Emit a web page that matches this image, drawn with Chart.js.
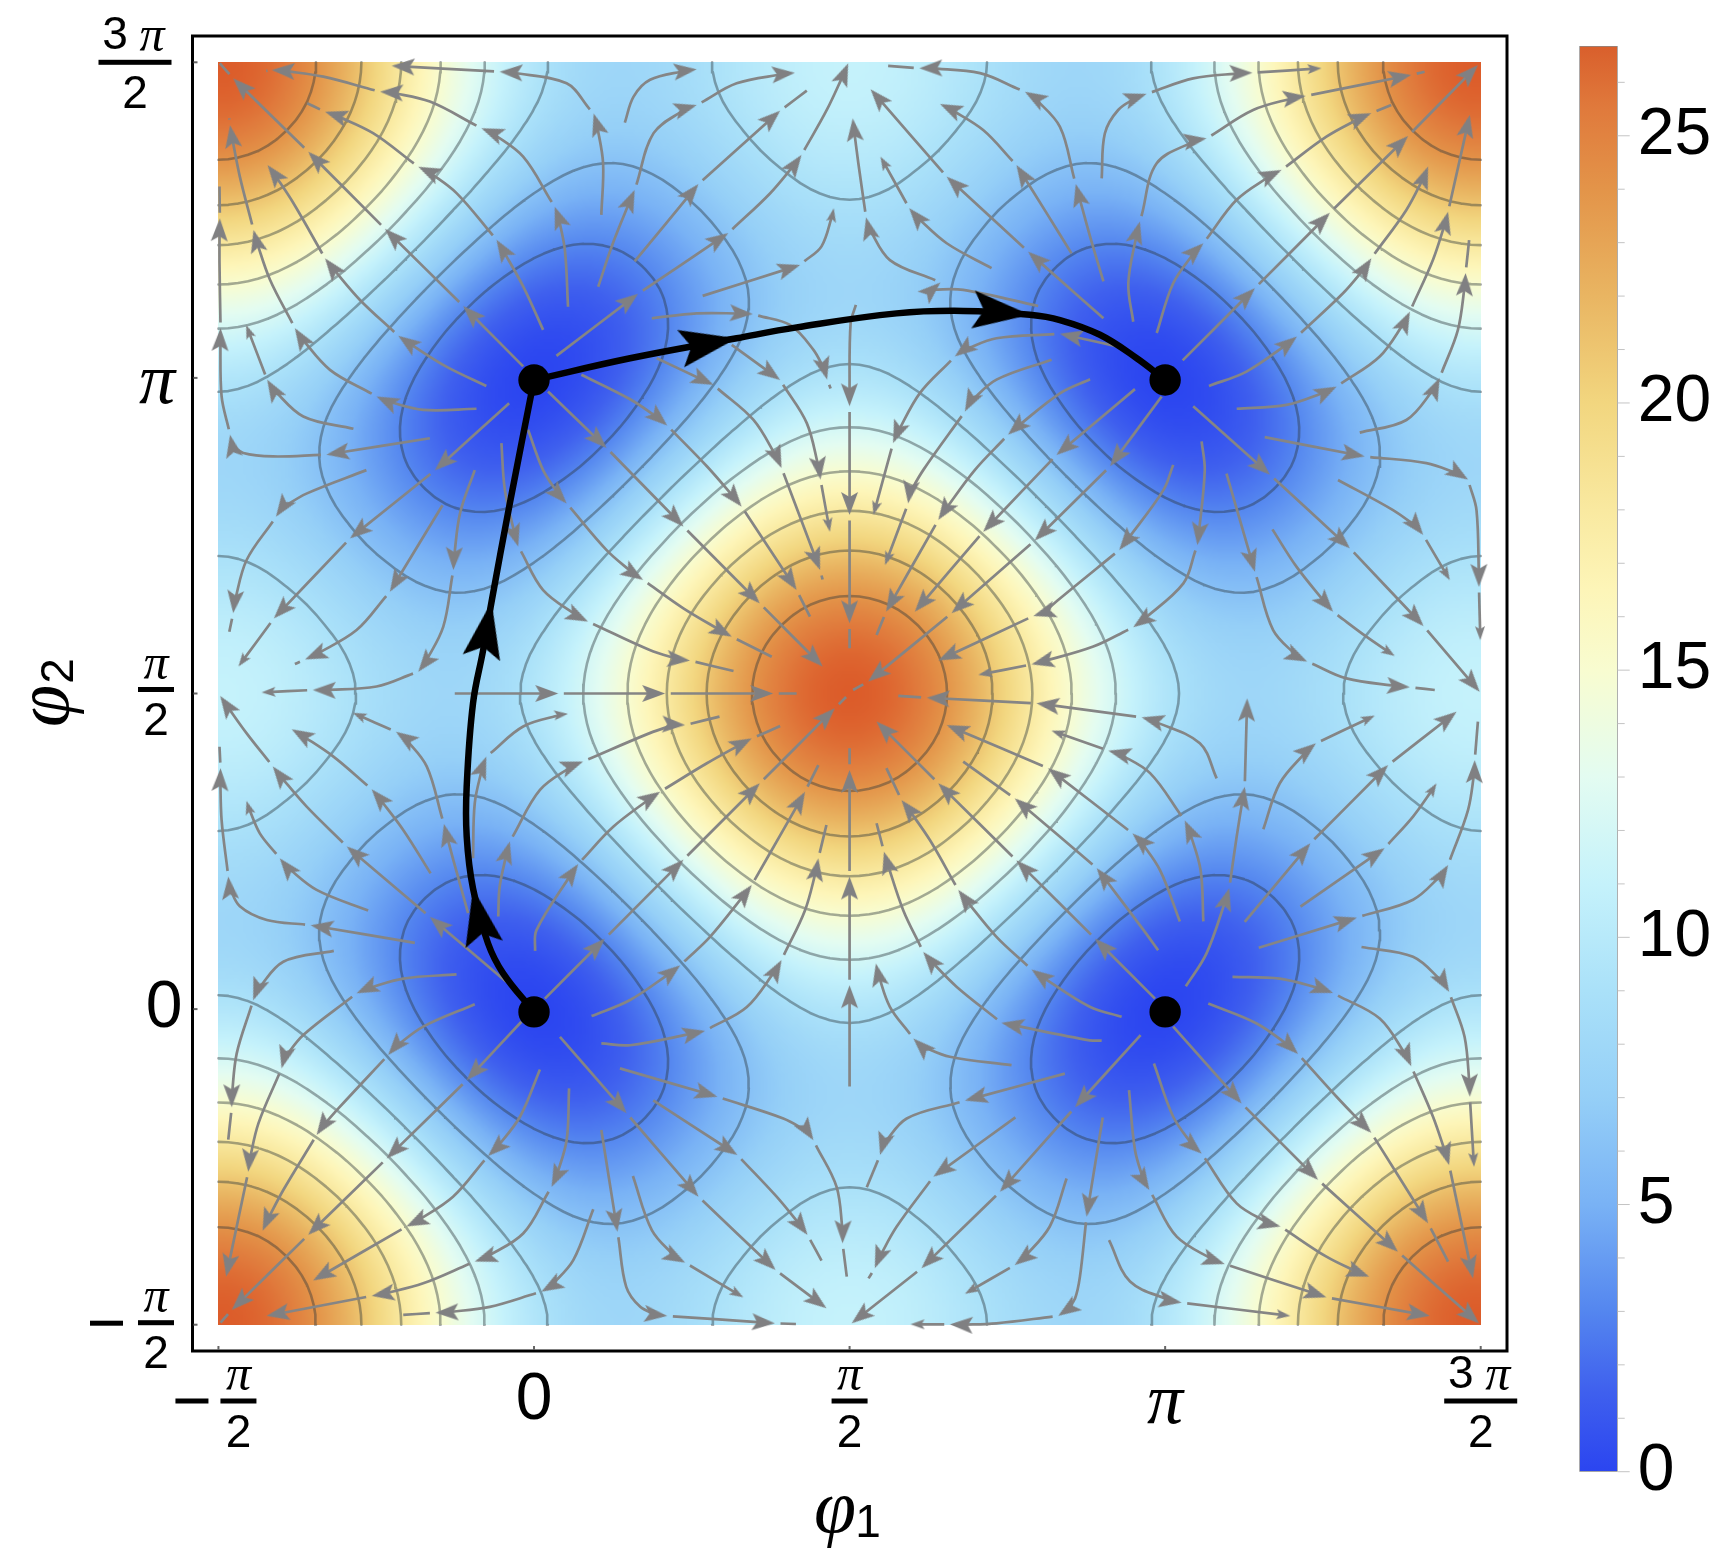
<!DOCTYPE html>
<html>
<head>
<meta charset="utf-8">
<title>phi1 phi2 landscape</title>
<script src="https://cdn.jsdelivr.net/npm/chart.js@4/dist/chart.umd.min.js"></script>
<style>
  html, body { margin: 0; background: #fff; }
  #wrap { position: relative; width: 1726px; height: 1558px; overflow: hidden; }
  canvas { position: absolute; top: 0; }
  #main { left: 0; }
  #bar { left: 1560px; }
</style>
</head>
<body>
<div id="wrap">
  <canvas id="main" width="1726" height="1558"></canvas>
  <canvas id="bar" width="166" height="1558"></canvas>
</div>
<script>
// all angles in degrees, -90 ... 270 on both axes
const xTicks = [-90, 0, 90, 180, 270];
const yTicks = [-90, 0, 90, 180, 270];
const contourLevels = [3, 6, 9, 12, 15, 18, 21, 24];
const barTop = 26.68;

// colour ramp
const rampValues = [0, 1.5, 3, 5, 7, 9, 11, 13, 15, 16.5, 18, 20, 22, 24, 25.5, 27];
const rampColors = ['#2b45f0', '#3f60ee', '#5486ef', '#79b2f5', '#95cff7', '#aae1f9', '#c5f2fb', '#e3fcf1',
  '#f8fcd0', '#fdf5b8', '#f9e9a0', '#f2d67f', '#e9b562', '#e39449', '#e07a3c', '#dc5c2a'];

// potential read at 11.25 degree steps, y = -90 up to y = 0, x = -90 ... 90
const heatRows = [
  [27, 26.49, 25, 22.71, 19.91, 16.89, 13.95, 11.42, 9.5, 8.3, 7.83, 7.99, 8.59, 9.41, 10.22, 10.79, 11],
  [26.49, 25.98, 24.5, 22.22, 19.44, 16.44, 13.54, 11.03, 9.14, 7.97, 7.52, 7.72, 8.34, 9.18, 10, 10.58, 10.79],
  [25, 24.5, 23.05, 20.81, 18.09, 15.16, 12.33, 9.91, 8.11, 7.03, 6.67, 6.94, 7.63, 8.53, 9.39, 10, 10.22],
  [22.71, 22.22, 20.81, 18.64, 16.01, 13.2, 10.5, 8.22, 6.56, 5.62, 5.4, 5.8, 6.61, 7.6, 8.53, 9.18, 9.41],
  [19.91, 19.44, 18.09, 16.01, 13.5, 10.83, 8.31, 6.21, 4.75, 4.01, 3.97, 4.55, 5.5, 6.61, 7.63, 8.34, 8.59],
  [16.89, 16.44, 15.16, 13.2, 10.83, 8.35, 6.03, 4.17, 2.94, 2.43, 2.63, 3.41, 4.55, 5.8, 6.94, 7.72, 7.99],
  [13.95, 13.54, 12.33, 10.5, 8.31, 6.03, 3.95, 2.35, 1.39, 1.15, 1.61, 2.63, 3.97, 5.4, 6.67, 7.52, 7.83],
  [11.42, 11.03, 9.91, 8.22, 6.21, 4.17, 2.35, 1.02, 0.36, 0.42, 1.15, 2.43, 4.01, 5.62, 7.03, 7.97, 8.3],
  [9.5, 9.14, 8.11, 6.56, 4.75, 2.94, 1.39, 0.36, 0, 0.36, 1.39, 2.94, 4.75, 6.56, 8.11, 9.14, 9.5]
];

// the four wells
const wells = [[0, -0.8], [0, 179.4], [180, -0.8], [180, 179.4]];

// black path, third number marks an arrow tip
const pathUp = [[0, -0.8], [-8.8, 10.2], [-13.1, 18.7], [-17.4, 34.4, 1], [-19.2, 49.2], [-19.2, 63.5], [-17.4, 87.2], [-14.5, 102.4], [-12.1, 116.2, 1], [-6.9, 144.2], [0, 179.4]];
const pathRight = [[0, 179.4], [27.4, 185.6], [57.8, 191.3, 1], [74.9, 194.4], [103.4, 198.4], [122.4, 199.1], [141.4, 198, 1], [150, 196.5], [161.4, 192.3], [171.9, 185.6], [180, 179.4]];

// grey stream lines: third number 1 = arrow tip, 2 = small arrow tip
const streamPaths = [
  [[-3.1, 183.3], [-20.2, 200.5, 1], [-42.5, 222.5, 1], [-64.4, 244.5, 1], [-85.8, 265.4, 1], [-89.6, 269.7]],
  [[2.6, 193.7], [-3.1, 206.1], [-10.7, 219.4, 1], [-22.1, 232.7], [-33, 240.2, 1], [-45.9, 249.8], [-59.6, 255.9, 1], [-64.7, 258.3]],
  [[9.7, 200.3], [8.8, 216.5], [5.9, 228.8, 1], [-3.1, 243.1], [-15, 251.2, 1], [-29.7, 258.8], [-43.9, 261.6, 1], [-60.1, 265.9], [-74.8, 267.8, 1], [-76, 267.6]],
  [[19.2, 226.5], [19.7, 241.2], [17, 255.4, 1], [9.3, 264], [-9.8, 267.3, 1], [-22.1, 268], [-40.6, 269, 1]],
  [[18.3, 206], [22.5, 218.4], [28.7, 233.6, 1], [34.1, 249.8], [46.4, 257.8, 1], [57.8, 264], [74.4, 267, 1]],
  [[25.9, 252.8], [28.4, 260.2], [33.1, 265], [46.4, 268, 1]],
  [[-13.6, 177.7], [-25, 183.2], [-38.7, 192, 1], [-49.7, 202.3], [-59.6, 214.1, 1], [-68.6, 229.8], [-76, 240.7, 1], [-76.6, 242.2]],
  [[-16.4, 171.2], [-31.6, 170.9], [-44.9, 174.7, 1], [-58.2, 182.3], [-68.2, 194.2, 1], [-75.3, 208], [-80, 222.2, 1], [-83.9, 237.4], [-86.7, 252.1, 1], [-86.9, 254]],
  [[-51.5, 165.5], [-65.8, 169], [-76.1, 179.5, 1], [-82.1, 195.1, 2]],
  [[-29.7, 162.8], [-59.2, 158.1, 1], [-74.4, 157.6], [-82.9, 158.6], [-86.7, 163.8, 1], [-89.1, 174.7], [-89.4, 194.2, 1], [-89.7, 212.7], [-89.6, 225.5, 1], [-89.7, 234.6]],
  [[-7.1, 172.8], [-28.3, 153.6, 1], [-52.5, 134.2, 1], [-74.2, 111.4, 1], [-84.3, 97.7, 2]],
  [[-47.8, 153.7], [-64.9, 147], [-73.6, 140.4, 1], [-82, 128], [-85.8, 112.9, 1], [-86.9, 107.6]],
  [[-26.1, 143.7], [-41.1, 119, 1], [-50.6, 108.1], [-65.3, 99.7, 1], [-68.2, 98.4]],
  [[-16.9, 153.7], [-21.1, 141.4], [-23, 125.2, 1], [-25.9, 109], [-33, 96.2, 1], [-44.9, 92], [-63.1, 91, 1], [-77.7, 90.3, 2]],
  [[-1.7, 165.2], [2.6, 153.7], [9.3, 144.2, 1], [20.7, 130.9], [31.1, 122.4, 1], [42.6, 114.3], [56.4, 106.2, 1], [67.8, 100.5]],
  [[-9.3, 161.4], [-8.3, 148], [-4.5, 131.9, 1], [2.6, 119.5], [15.4, 110.5, 1], [33, 102.4], [44.5, 99.4, 1], [56.9, 96.4]],
  [[-7.9, 7.8], [-29.7, 26.3, 1], [-53.4, 46.4, 1], [-64.9, 57.8], [-74.5, 69.2, 1], [-82, 78.7], [-89.5, 89.3, 1]],
  [[-29.5, 38.7], [-37.3, 51.1], [-46.3, 62.7, 1], [-57.2, 72], [-69.1, 79.8, 1]],
  [[-18.8, 27.4], [-23, 42.5], [-25.7, 52.8, 1], [-30.6, 69.2], [-39.4, 79.1, 1], [-51.7, 84.5, 2]],
  [[-47.3, 28.1], [-62, 34], [-72.5, 43, 1], [-78.2, 50.1], [-82, 59.4, 2]],
  [[-34, 18.9], [-63.7, 23.9, 1], [-76.2, 25.4], [-83.9, 29.3], [-87.2, 37.8, 1], [-89.1, 53.9], [-89.4, 68.7, 1], [-89.7, 74.8]],
  [[-17.4, 43], [-16.9, 58.7], [-13.6, 72, 1], [-3.1, 80.6], [9.7, 84.2, 2]],
  [[-22.6, 90], [6.9, 90, 1], [37.4, 90, 1], [68.2, 90, 1], [74.9, 90]],
  [[-10.2, 26.4], [-9.8, 34.9], [-6.9, 47.8, 1], [1.7, 62.5], [14, 70.6, 1], [33, 78.7], [43.1, 81, 1], [52.9, 83.4]],
  [[0.3, 16.6], [0.7, 22.5], [12.6, 41.4, 1], [22.6, 52], [36, 62, 1], [49.3, 70.1], [62.1, 77.2, 1], [70.2, 80.7]],
  [[3.1, 3], [20.2, 20.1, 1], [42.6, 42.6, 1], [64.4, 64.4, 1], [85.8, 85.8, 1], [89, 89]],
  [[16.4, -2], [27.4, 2.6], [41.7, 12.5, 1], [50.2, 20.6], [62.1, 35.4, 1], [71.1, 51.1], [77.3, 62, 1], [81.1, 69.6]],
  [[19.2, -9.8], [27.4, -10.3], [48.8, -6.2, 1], [60.7, 0.6], [70.6, 14, 1], [77.3, 28.2], [81.1, 43, 1], [83.4, 52.5]],
  [[90, -22.1], [90, 6.8, 1], [90, 37.8, 1], [90, 68.2, 1], [90, 74.4]],
  [[136.2, -16], [118.6, -13.6], [108.2, -8.4, 1], [101.5, 0.65], [97.5, 13, 1]],
  [[161.9, -9], [158.5, -8.9], [133.3, -3.9, 1], [120.5, 6.4], [111, 16.3, 1], [105.3, 28.2], [99.8, 44.9, 1], [97.7, 53]],
  [[167.6, -2.2], [158.5, 0.65], [141.9, 11.3, 1], [131.9, 20.6], [121, 34, 1], [112.9, 48.2], [104.8, 59.6, 1], [100.5, 68.7]],
  [[177.1, 3], [160, 20.1, 1], [137.6, 42.4, 1], [115.3, 64.4, 1], [97.7, 82, 1]],
  [[178, 16.8], [173.8, 22.6], [160.5, 40.2, 1], [137.1, 60.1, 1], [122.4, 70.6]],
  [[184.2, 25], [178.5, 39.7], [170.7, 50.1, 1], [146.6, 68.7, 1], [117.7, 81, 1]],
  [[194.7, 65.8], [189.9, 75.8], [173.3, 83.2, 1], [143.3, 87.2, 1], [112, 88.8, 1], [103.9, 89.3]],
  [[190.9, 25], [190.1, 39.7], [185.6, 53.8, 1], [175.7, 67.3], [163.8, 73.7, 1], [147.6, 79.4, 2]],
  [[190.4, 161.9], [191.3, 153.7], [189.2, 132.3, 1], [185.2, 121.4], [170.9, 108.9, 1], [159.5, 103.4], [141.9, 98.3, 1], [126.7, 95.3, 2]],
  [[182.3, 155.2], [179.5, 148], [166.9, 130.9, 1], [150, 117.1], [142.4, 112.1, 1], [115.3, 99.4, 1]],
  [[179, 174.7], [164.3, 154.8, 1], [142.8, 133.6, 1], [119.1, 112.9, 1], [95.3, 93.4, 1], [91, 91]],
  [[171.4, 176.8], [149, 158, 1], [128.1, 136.1, 1], [108.6, 113.3, 1]],
  [[147.6, 185.2], [131.9, 179.5], [122.9, 170.4, 1], [111, 153.7], [106.7, 144.2, 1], [100.1, 126.6, 2]],
  [[158.6, 179.6], [150, 175.6], [135.2, 163.8, 1], [125.7, 153.7], [115.3, 139.5, 1], [100.4, 113.3, 1], [97.7, 106.7]],
  [[168.5, 188.5], [150, 192.6, 1], [131.9, 191.3], [120, 186.1, 1], [110, 175.6], [102.4, 161.4, 1], [96.8, 140.9, 2]],
  [[91.8, 200.8], [90.3, 195.6], [90, 171.9, 1], [90, 140.9, 1], [90, 110, 1], [90, 102.9]],
  [[33.6, 197], [46.4, 198.4], [62.4, 198.2, 1], [73, 195.1], [79.7, 188], [83.6, 179.5, 1], [84.6, 177]],
  [[35, 185.6], [51.2, 178, 1], [62.6, 168], [70.6, 154.3, 1], [81.6, 125.2, 1], [82.3, 122.5]],
  [[56.4, 189.4], [70.2, 179.4, 1], [77.8, 167.1], [81.7, 151, 1], [84.4, 136.1, 2]],
  [[13.5, 180.9], [27.4, 173.9], [38, 166.4, 1], [49.3, 154.8], [59.2, 143.3, 1], [74.9, 119.5, 1], [78.7, 111.9]],
  [[4, 176.1], [20.7, 160, 1], [42.6, 137.6, 1], [64.4, 115.7, 1], [82.3, 97.7, 1]],
  [[6.4, 186.3], [29.7, 204, 1], [55.4, 221.3, 1], [67.3, 232.6], [76.3, 243.6, 1], [83.5, 256.4], [89.6, 269.7, 1]],
  [[28.7, 213.2], [46.9, 235.3, 1], [70.2, 256.2, 1], [77.8, 261.9]],
  [[48.1, 203.4], [75.9, 212.2, 1], [82, 217.5], [85.5, 228.4, 2]],
  [[143.8, 200.5], [122.4, 205.1], [115.9, 207.2, 1], [101.5, 213.6], [94.7, 225.8, 1], [92.5, 241.2], [90.9, 254, 1]],
  [[130.5, 211.3], [117.7, 218.4], [107, 228.4, 1], [102.5, 236.5], [98.8, 243.1, 2]],
  [[162.4, 197], [140.9, 216, 1], [117.7, 237.4, 1], [96, 262.3, 1]],
  [[153.3, 215.5], [146.2, 227], [137.6, 240.7, 1], [128.1, 250.7], [115.8, 258.1, 1]],
  [[162.4, 207.5], [158.6, 220.3], [154.5, 235.3, 1], [150, 251.6], [140, 261.6, 1], [127.2, 266.9], [109.9, 268.3, 1], [101, 269]],
  [[170.9, 196], [169.5, 207], [172.8, 224.6, 1], [177.6, 241.2], [191.8, 248.3, 1], [205.1, 256.4], [220.1, 260.4, 1], [250.2, 266.4, 1], [254, 267.3]],
  [[161.9, 236.9], [162.8, 249.7], [166.6, 256.4], [174.7, 261, 1], [188, 265.4], [204.9, 267, 1], [224.6, 268.3, 2]],
  [[177.6, 192.8], [182.3, 207], [190.9, 218.4, 1], [200.4, 230.8], [213.2, 239.3, 1], [226, 248.8], [238.8, 255.5, 1], [244.5, 257.8]],
  [[185, 185], [205.6, 205.6, 1], [227, 227.1, 1], [249.3, 249, 1], [269.2, 269.2, 1]],
  [[192.5, 177.7], [203.2, 181.8], [217.6, 191.8, 1], [230.8, 204.2], [238.8, 214.1, 1], [248.8, 227.9], [255, 240.3, 1]],
  [[200.4, 171.2], [214.6, 172.3], [228.9, 177.5, 1], [241.2, 186.1], [249.8, 198.9, 1], [256.4, 213.7], [260.7, 227.4, 1], [266.9, 255, 1]],
  [[235.5, 164.4], [248.8, 168], [258.3, 180, 1], [263.5, 193.7], [265.7, 209.9, 1], [266.7, 219.3]],
  [[208.4, 163.1], [236.9, 157.6, 1], [254.5, 155.7], [266.4, 151, 1], [268.8, 142.3], [269.5, 120.4, 1], [269.9, 105.2, 2]],
  [[188, 171.9], [209.9, 152.4, 1], [232.7, 131.4, 1], [253.7, 109.2, 1], [269.7, 90.5, 1]],
  [[229.3, 150.9], [245, 142.3], [253.6, 135.2, 1], [261.2, 122.3, 2]],
  [[197.5, 152.7], [205.6, 124.7, 1], [210.8, 108.1], [220.5, 99.1, 1], [231.7, 94.3], [249.8, 91.8, 1], [256.9, 91]],
  [[210.6, 136.8], [217.5, 126.1], [227.9, 113.3, 1], [237.4, 106.2], [245.5, 100.7, 2]],
  [[202.7, 24.9], [221.4, 47.3, 1], [243.6, 69.6, 1], [263.1, 84.8, 1]],
  [[185.9, 6.5], [191.8, 15.9], [198.3, 34.5, 1], [200.4, 49.2], [202.7, 63.4, 1], [203.4, 88.6, 1]],
  [[208, 51.3], [212.7, 64.4], [223, 75.8, 1], [239.8, 83.7, 2]],
  [[218.6, 29.2], [242.6, 45.9, 1], [250.7, 54.9], [257.4, 64.4, 2]],
  [[206.7, 17.5], [234.7, 26.1, 1], [250.7, 31.2], [260.7, 41.1, 1], [266.4, 56.8], [268.3, 71, 1], [269.2, 82]],
  [[236, 17.7], [250.7, 14.9], [261, 4.9, 1], [265.4, -7.9], [266.9, -25, 1], [268.1, -45, 2]],
  [[199.2, 9.2], [212.7, 8.7], [227.9, 4.6, 1], [241.2, -2.7], [250.2, -16.3, 1], [256.4, -30.7], [261, -44.5, 1], [267.8, -76.8, 1]],
  [[192.3, 1.6], [206.1, -4.1], [217.9, -12.8, 1], [228.9, -25], [238.8, -35.3, 1], [255, -61.1, 1], [260.7, -72]],
  [[182.3, -5], [201.8, -26.9, 1], [223.6, -48.7, 1], [246.4, -69.2, 1], [269.5, -89.6, 1]],
  [[176.8, -15.5], [182.3, -30.7], [190.4, -41.2, 1], [200.4, -55.4], [212.9, -62, 1], [226, -70.6], [238.2, -76.3, 1]],
  [[169.7, -23.1], [171.4, -40.2], [175.5, -51.6, 1], [183.3, -64.9], [197, -72.7, 1], [226, -82.2, 1], [255.5, -87.5, 1]],
  [[164, -65.9], [170, -77.7], [184.7, -83.7, 1], [215.7, -87.5, 2]],
  [[162.2, -30.9], [157.6, -59.2, 1], [155.7, -76.3], [154.3, -82.5], [149.5, -87.5, 1], [131.9, -89.6], [118.6, -89.9, 1], [107.4, -89.9, 2]],
  [[151.9, -48.3], [147.1, -62], [137.1, -73, 1], [122.9, -81.2, 2]],
  [[173, -7.4], [154.3, -28, 1], [132.9, -52.1, 1], [110.5, -73.9, 1], [90.6, -89.6, 1]],
  [[151.4, -18.4], [122.9, -26.1, 1], [106.3, -31.2], [98.7, -41.6, 1], [94.9, -50.8]],
  [[137.3, -30.9], [113.9, -47.8, 1], [103.4, -62.1], [97.2, -73.9, 1], [95.4, -76.8]],
  [[7.4, -7.9], [26.4, -29.7, 1], [46.9, -53.5, 1], [68.9, -74.4, 1], [83.4, -85.3, 1]],
  [[24.5, -16.9], [52.3, -25, 1], [71.1, -31.2], [79.7, -37.4, 1], [86.3, -50.7], [88, -66.8, 1], [89.2, -76.3]],
  [[34, -26], [58, -41.6, 1], [69.2, -53.5], [78, -64.4, 1], [82, -71.7]],
  [[28.2, -47.6], [33.6, -63], [43.1, -72.3, 1], [59.7, -82.2, 2]],
  [[19.2, -34.5], [23.8, -63.5, 1], [26.3, -79.2], [30.3, -84.9], [38, -87.5, 1], [68.7, -89.6, 1], [74.7, -89.8]],
  [[10, -22.6], [9.3, -37.4], [5, -50.7, 1], [-3.1, -64], [-16.9, -72, 1], [-31.6, -78.2], [-46.3, -81.8, 1], [-76.3, -87.5, 1]],
  [[1.7, -17.2], [-4, -30.7], [-13.1, -41.9, 1], [-23.1, -53.5], [-36.4, -62, 1], [-63, -77.4, 1]],
  [[-3.6, -3.6], [-19.2, -20.3, 1], [-42, -42.6, 1], [-64.4, -64.4, 1], [-86.2, -85.8, 1], [-89.4, -89.4]],
  [[-16.9, 1.4], [-31.6, -5], [-41.6, -13.1, 1], [-55.4, -27.9], [-62, -35.9, 1], [-71.5, -51.6], [-77.4, -63.2, 1]],
  [[-22.1, 9.9], [-37.3, 8.7], [-50.6, 4.5, 1], [-65.8, -7.4], [-72, -16.9, 1], [-78.6, -32.6], [-81.5, -46.4, 1], [-87.8, -76.3, 1]],
  [[-57.1, 16.6], [-71.5, 13.5], [-80.1, 2.5, 1], [-84.8, -12.7], [-86.2, -28, 1], [-87.2, -37.2]],
  [[16.9, -57.1], [11.2, -71.6], [2.1, -80.6, 1], [-12.6, -84.9], [-28.1, -86.6, 1], [-37.3, -87.2]]
];

// the landscape mirrors about the central peak, so the stored rows fill the whole square
const quarter = heatRows.concat(heatRows.slice(0, -1).reverse().map(r => r.slice().reverse()));
const halfWide = quarter.map(r => r.concat(r.slice(0, -1).reverse()));
const heatGrid = halfWide.concat(halfWide.slice(0, -1).reverse());
const STEP = 11.25;
const LAST = heatGrid.length - 1;

function mirrorIndex(i) {
  if (i < 0) return -i;
  if (i > LAST) return 2 * LAST - i;
  return i;
}

function cubic(a, b, c, d, t) {
  return b + 0.5 * t * (c - a + t * (2 * a - 5 * b + 4 * c - d + t * (3 * (b - c) + d - a)));
}

// smooth read-out of the table, used for painting only
function heatAt(x, y) {
  const u = (x + 90) / STEP, v = (y + 90) / STEP;
  const i = Math.min(Math.floor(u), LAST - 1), j = Math.min(Math.floor(v), LAST - 1);
  const tu = u - i, tv = v - j;
  const rows = [];
  for (let m = -1; m <= 2; m++) {
    const row = heatGrid[mirrorIndex(j + m)];
    rows.push(cubic(row[mirrorIndex(i - 1)], row[i], row[i + 1], row[mirrorIndex(i + 2)], tu));
  }
  return cubic(rows[0], rows[1], rows[2], rows[3], tv);
}

const rampRgb = rampColors.map(h => [parseInt(h.slice(1, 3), 16), parseInt(h.slice(3, 5), 16), parseInt(h.slice(5, 7), 16)]);
function rampAt(v) {
  if (v <= rampValues[0]) return rampRgb[0];
  for (let k = 1; k < rampValues.length; k++) {
    if (v <= rampValues[k]) {
      const t = (v - rampValues[k - 1]) / (rampValues[k] - rampValues[k - 1]);
      return rampRgb[k].map((c, n) => rampRgb[k - 1][n] + (c - rampRgb[k - 1][n]) * t);
    }
  }
  return rampRgb[rampRgb.length - 1];
}

// offscreen picture of the table
function buildHeatImage() {
  const size = 361;
  const c = document.createElement('canvas');
  c.width = size; c.height = size;
  const g = c.getContext('2d');
  const img = g.createImageData(size, size);
  for (let r = 0; r < size; r++) {
    for (let q = 0; q < size; q++) {
      const rgb = rampAt(heatAt(-90 + q, 270 - r));
      const p = (r * size + q) * 4;
      img.data[p] = rgb[0]; img.data[p + 1] = rgb[1]; img.data[p + 2] = rgb[2]; img.data[p + 3] = 255;
    }
  }
  g.putImageData(img, 0, 0);
  return c;
}

// marching squares over the table, one point list per level
function contourPoints(level) {
  const n = 128, d = 360 / n;
  const field = [];
  for (let j = 0; j <= n; j++) {
    const row = [];
    for (let i = 0; i <= n; i++) row.push(heatAt(-90 + i * d, -90 + j * d));
    field.push(row);
  }
  const out = [];
  const cross = (x1, y1, v1, x2, y2, v2) => {
    const t = (level - v1) / (v2 - v1);
    return { x: x1 + (x2 - x1) * t, y: y1 + (y2 - y1) * t };
  };
  for (let j = 0; j < n; j++) {
    for (let i = 0; i < n; i++) {
      const x0 = -90 + i * d, x1 = x0 + d, y0 = -90 + j * d, y1 = y0 + d;
      const a = field[j][i], b = field[j][i + 1], c = field[j + 1][i + 1], e = field[j + 1][i];
      const hits = [];
      if ((a < level) !== (b < level)) hits.push(cross(x0, y0, a, x1, y0, b));
      if ((b < level) !== (c < level)) hits.push(cross(x1, y0, b, x1, y1, c));
      if ((c < level) !== (e < level)) hits.push(cross(x1, y1, c, x0, y1, e));
      if ((e < level) !== (a < level)) hits.push(cross(x0, y1, e, x0, y0, a));
      for (let h = 0; h + 1 < hits.length; h += 2) {
        out.push(hits[h], hits[h + 1], { x: null, y: null });
      }
    }
  }
  return out;
}

function makeArrow(len, width, notch, color) {
  const c = document.createElement('canvas');
  c.width = 2 * len + 6;
  c.height = width + 6;
  const g = c.getContext('2d');
  const cx = c.width / 2, cy = c.height / 2;
  g.fillStyle = color;
  g.beginPath();
  g.moveTo(cx, cy);
  g.lineTo(cx - len, cy - width / 2);
  g.lineTo(cx - len + notch, cy);
  g.lineTo(cx - len, cy + width / 2);
  g.closePath();
  g.fill();
  return c;
}
const greyHead = makeArrow(23, 17, 5, '#808082');
const smallHead = makeArrow(14, 10, 3, '#808082');
const blackHead = makeArrow(57, 38, 11, '#000');

function unit(dx, dy) {
  const l = Math.hypot(dx, dy) || 1;
  return { x: dx / l, y: dy / l };
}

// cut a stream at its arrow tips, with a small gap after each one
function splitStream(path) {
  const pieces = [], heads = [];
  let piece = [{ x: path[0][0], y: path[0][1] }];
  for (let i = 1; i < path.length; i++) {
    const p = path[i];
    piece.push({ x: p[0], y: p[1] });
    if (!p[2]) continue;
    const m = piece.length;
    let dir;
    if (m >= 3) {
      dir = unit(3 * p[0] - 4 * piece[m - 2].x + piece[m - 3].x, 3 * p[1] - 4 * piece[m - 2].y + piece[m - 3].y);
    } else {
      dir = unit(p[0] - piece[0].x, p[1] - piece[0].y);
    }
    heads.push({ x: p[0], y: p[1], rot: Math.atan2(-dir.y, dir.x) * 180 / Math.PI, small: p[2] === 2 });
    const back = p[2] === 2 ? 1.8 : 3;
    piece[m - 1] = { x: p[0] - dir.x * back, y: p[1] - dir.y * back };
    pieces.push(piece);
    piece = null;
    if (path[i + 1]) {
      const on = unit(path[i + 1][0] - p[0], path[i + 1][1] - p[1]);
      piece = [{ x: p[0] + on.x * 1.6, y: p[1] + on.y * 1.6 }];
    }
  }
  if (piece && piece.length > 1) pieces.push(piece);
  return { pieces, heads };
}

const greyPieces = [], greyHeads = [];
streamPaths.forEach(path => {
  const s = splitStream(path);
  greyPieces.push(...s.pieces);
  greyHeads.push(...s.heads);
});

// tips on the black path
function blackTips(path) {
  const out = [];
  path.forEach((p, i) => {
    if (!p[2]) return;
    const dir = unit(path[i + 1][0] - path[i - 1][0], path[i + 1][1] - path[i - 1][1]);
    out.push({ x: p[0], y: p[1], rot: Math.atan2(-dir.y, dir.x) * 180 / Math.PI });
  });
  return out;
}
const blackHeads = blackTips(pathUp).concat(blackTips(pathRight));
const toPoints = path => path.map(p => ({ x: p[0], y: p[1] }));

const datasets = [];
datasets.push({
  label: 'wells',
  data: wells.map(p => ({ x: p[0], y: p[1] })),
  pointRadius: 15.7, pointBackgroundColor: '#000', pointBorderWidth: 0, showLine: false, order: 0
});
datasets.push({
  label: 'path heads',
  data: blackHeads,
  pointStyle: blackHead, pointRadius: 10, pointRotation: blackHeads.map(h => h.rot), showLine: false, order: 1
});
[pathUp, pathRight].forEach(path => {
  datasets.push({
    label: 'path',
    data: toPoints(path),
    showLine: true, borderColor: '#000', borderWidth: 6.5, tension: 0.4, pointRadius: 0, order: 2
  });
});
datasets.push({
  label: 'stream heads',
  data: greyHeads,
  pointStyle: greyHeads.map(h => h.small ? smallHead : greyHead), pointRadius: 5,
  pointRotation: greyHeads.map(h => h.rot), showLine: false, order: 3
});
greyPieces.forEach(piece => {
  datasets.push({
    label: 'stream',
    data: piece,
    showLine: true, borderColor: '#858585', borderWidth: 2.7, tension: 0.35, pointRadius: 0, order: 4
  });
});
contourLevels.forEach(level => {
  datasets.push({
    label: 'contour ' + level,
    data: contourPoints(level),
    showLine: true, spanGaps: false, borderColor: 'rgba(45,55,60,0.42)', borderWidth: 2.6,
    borderCapStyle: 'round', tension: 0, pointRadius: 0, order: 5
  });
});

const heatImage = buildHeatImage();
const SANS = '"Liberation Sans"';
const SERIF = '"Liberation Serif"';

const heatPlugin = {
  id: 'heat',
  beforeDatasetsDraw(chart) {
    const xs = chart.scales.x, ys = chart.scales.y, ctx = chart.ctx;
    const left = xs.getPixelForValue(-90), right = xs.getPixelForValue(270);
    const top = ys.getPixelForValue(270), bottom = ys.getPixelForValue(-90);
    ctx.save();
    ctx.imageSmoothingEnabled = true;
    ctx.imageSmoothingQuality = 'high';
    ctx.drawImage(heatImage, left, top, right - left, bottom - top);
    ctx.restore();
  }
};

function drawText(ctx, text, x, y, font, align) {
  ctx.font = font;
  ctx.textAlign = align || 'center';
  ctx.textBaseline = 'middle';
  ctx.fillText(text, x, y);
}

// stacked fraction, barY is the fraction bar; lead is an optional upright digit before the pi
function drawFraction(ctx, lead, cx, barY, barW) {
  ctx.fillRect(cx - barW / 2, barY - 2.5, barW, 5);
  if (lead) {
    drawText(ctx, lead, cx - 20, barY - 26, '46px ' + SANS);
    drawText(ctx, 'π', cx + 17, barY - 24, 'italic 50px ' + SERIF);
  } else {
    drawText(ctx, 'π', cx, barY - 24, 'italic 50px ' + SERIF);
  }
  drawText(ctx, '2', cx, barY + 33, '46px ' + SANS);
}

const framePlugin = {
  id: 'frame',
  afterDraw(chart) {
    const { left, right, top, bottom } = chart.chartArea;
    const xs = chart.scales.x, ys = chart.scales.y, ctx = chart.ctx;
    ctx.save();
    ctx.strokeStyle = '#000';
    ctx.lineWidth = 3;
    ctx.strokeRect(left, top, right - left, bottom - top);

    // tiny inner tick marks on the left and bottom side only
    ctx.fillStyle = '#666';
    xTicks.forEach(v => ctx.fillRect(xs.getPixelForValue(v) - 1, bottom - 5, 2, 4));
    yTicks.forEach(v => ctx.fillRect(left + 1, ys.getPixelForValue(v) - 1, 4, 2));

    ctx.fillStyle = '#000';
    // x labels
    const barX = 1401;
    const px = v => xs.getPixelForValue(v);
    ctx.fillRect(px(-90) - 43, barX - 2.5, 33, 5);
    drawFraction(ctx, '', px(-90) + 20, barX, 36);
    drawText(ctx, '0', px(0), barX, '66px ' + SANS);
    drawFraction(ctx, '', px(90), barX, 36);
    drawText(ctx, 'π', px(180), barX + 3, 'italic 72px ' + SERIF);
    drawFraction(ctx, '3', px(270), barX, 73);
    // y labels
    const py = v => ys.getPixelForValue(v);
    const fracX = 156;
    ctx.fillRect(90, py(-90) - 4, 33, 5);
    drawFraction(ctx, '', fracX, py(-90) - 2, 36);
    drawText(ctx, '0', 164, py(0), '66px ' + SANS);
    drawFraction(ctx, '', fracX, py(90) - 4, 36);
    drawText(ctx, 'π', 157, py(180) + 6, 'italic 72px ' + SERIF);
    drawFraction(ctx, '3', 135, py(270), 73);
    // axis titles
    drawText(ctx, 'φ', 835, 1512, 'italic 76px ' + SERIF);
    drawText(ctx, '1', 868, 1524, '46px ' + SANS);
    ctx.translate(48, 692);
    ctx.rotate(-Math.PI / 2);
    drawText(ctx, 'φ', -14, 0, 'italic 76px ' + SERIF);
    drawText(ctx, '2', 21, 12, '46px ' + SANS);
    ctx.restore();
  }
};

new Chart(document.getElementById('main'), {
  type: 'scatter',
  data: { datasets },
  options: {
    responsive: false,
    animation: false,
    events: [],
    layout: { padding: { left: 192.5, right: 219, top: 36, bottom: 207 } },
    plugins: { legend: { display: false }, tooltip: { enabled: false } },
    scales: {
      x: {
        type: 'linear', min: -97.4, max: 277.5,
        afterBuildTicks: s => { s.ticks = xTicks.map(v => ({ value: v })); },
        grid: { display: false, drawTicks: false }, border: { display: false }, ticks: { display: false }
      },
      y: {
        type: 'linear', min: -97.5, max: 277.5,
        afterBuildTicks: s => { s.ticks = yTicks.map(v => ({ value: v })); },
        grid: { display: false, drawTicks: false }, border: { display: false }, ticks: { display: false }
      }
    }
  },
  plugins: [heatPlugin, framePlugin]
});

// colour bar
const barTickMarks = {
  id: 'barTicks',
  afterDraw(chart) {
    const ys = chart.scales.y, ctx = chart.ctx, right = chart.chartArea.right;
    ctx.save();
    ctx.fillStyle = '#c4c4c4';
    ys.ticks.forEach(t => {
      const len = t.value % 5 === 0 ? 12 : 7;
      ctx.fillRect(right, ys.getPixelForValue(t.value) - 0.5, len, 1);
    });
    ctx.restore();
  }
};

new Chart(document.getElementById('bar'), {
  type: 'bar',
  data: {
    labels: [''],
    datasets: [{
      data: [[0, barTop]],
      barPercentage: 1, categoryPercentage: 1,
      borderWidth: 1, borderColor: 'rgba(40,40,40,0.55)', borderSkipped: false,
      backgroundColor(ctx) {
        const area = ctx.chart.chartArea;
        if (!area) return '#888';
        const y = ctx.chart.scales.y;
        const grad = ctx.chart.ctx.createLinearGradient(0, y.getPixelForValue(0), 0, y.getPixelForValue(barTop));
        rampValues.forEach((v, i) => {
          if (v <= barTop) grad.addColorStop(v / barTop, rampColors[i]);
        });
        grad.addColorStop(1, '#d95f2c');
        return grad;
      }
    }]
  },
  options: {
    responsive: false,
    animation: false,
    events: [],
    layout: { padding: { left: 19.3, right: 0, top: 46, bottom: 86.3 } },
    plugins: { legend: { display: false }, tooltip: { enabled: false } },
    scales: {
      x: { display: false },
      y: {
        position: 'right', min: 0, max: barTop,
        afterFit: s => { s.width = 108.3; s.paddingTop = 0; s.paddingBottom = 0; },
        grid: { display: false, drawTicks: false }, border: { display: false },
        ticks: {
          stepSize: 1, autoSkip: false, includeBounds: false, padding: 20,
          color: '#000', font: { family: SANS.replace(/"/g, ''), size: 66 },
          callback: v => (v % 5 === 0 ? String(v) : '')
        }
      }
    }
  },
  plugins: [barTickMarks]
});
</script>
</body>
</html>
